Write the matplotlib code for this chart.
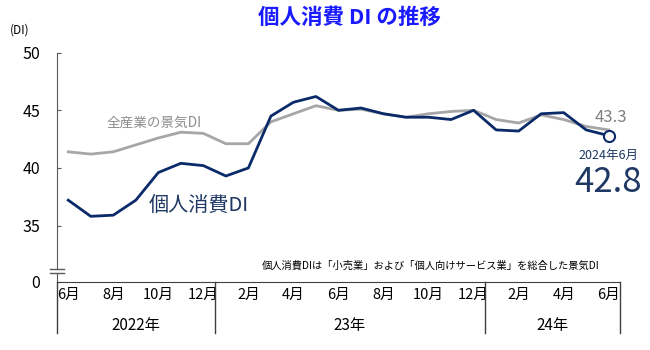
import matplotlib
matplotlib.use("Agg")
import matplotlib.pyplot as plt
import matplotlib.transforms as mtransforms

plt.rcParams['font.family'] = ['Noto Sans CJK JP', 'DejaVu Sans']

# 2022年6月 - 2024年6月 (月次)
kojin_di = [37.2, 35.8, 35.9, 37.2, 39.6, 40.4, 40.2, 39.3, 40.0, 44.5,
            45.7, 46.2, 45.0, 45.2, 44.7, 44.4, 44.4, 44.2, 45.0, 43.3,
            43.2, 44.7, 44.8, 43.3, 42.8]
zensangyo_di = [41.4, 41.2, 41.4, 42.0, 42.6, 43.1, 43.0, 42.1, 42.1, 44.0,
                44.7, 45.4, 45.0, 45.1, 44.7, 44.4, 44.7, 44.9, 45.0, 44.2,
                43.9, 44.6, 44.2, 43.6, 43.3]
month_labels = ["6月", "8月", "10月", "12月", "2月", "4月", "6月",
                "8月", "10月", "12月", "2月", "4月", "6月"]
year_labels = ["2022年", "23年", "24年"]
year_bounds = [-0.5, 6.5, 18.5, 24.5]

navy = "#0b2a6a"
text_navy = "#1f3864"
gray = "#a6a6a6"
y_base = 30.1  # 軸の「0」の位置(省略線の下)

fig = plt.figure(figsize=(6.5, 3.5), dpi=100)
ax = fig.add_axes([0.0877, 0.1943, 0.8661, 0.6551])

x = list(range(len(kojin_di)))
ax.plot(x, zensangyo_di, color=gray, lw=2, zorder=2)
ax.plot(x, kojin_di, color=navy, lw=2, zorder=3)
ax.plot(x[-1], kojin_di[-1], "o", ms=8, mfc="white", mec=navy, mew=1.5, zorder=4)

ax.set_xlim(-0.5, 24.5)
ax.set_ylim(y_base, 50)
ax.set_yticks([y_base, 35, 40, 45, 50])
ax.set_yticklabels(["0", "35", "40", "45", "50"], fontsize=11.5)
ax.tick_params(axis="y", direction="in", length=3, color="#595959", pad=12)
ax.set_xticks(range(0, 25, 2))
ax.set_xticklabels(month_labels, fontsize=10.5)
ax.tick_params(axis="x", length=0, pad=4)

for s in ["top", "right"]:
    ax.spines[s].set_visible(False)
ax.spines["left"].set_color("#595959")
ax.spines["bottom"].set_color("#404040")

# 年の区切り線と年ラベル
trans = mtransforms.blended_transform_factory(ax.transData, ax.transAxes)
for b in year_bounds:
    ax.plot([b, b], [0, -0.222], color="#404040", lw=1, transform=trans, clip_on=False)
for i, lab in enumerate(year_labels):
    mid = (year_bounds[i] + year_bounds[i + 1]) / 2
    ax.text(mid, -0.19, lab, transform=trans, ha="center", va="center", fontsize=11)

# 縦軸の省略線
ax.add_patch(plt.Rectangle((-0.02, 0.039), 0.04, 0.018, transform=ax.transAxes,
                           facecolor="white", edgecolor="none", clip_on=False, zorder=5))
for yy in [0.039, 0.057]:
    ax.plot([-0.013, 0.013], [yy, yy], color="#595959", lw=1,
            transform=ax.transAxes, clip_on=False, zorder=6)

# 注記
ax.text(3.8, 43.9, "全産業の景気DI", color="#8c8c8c", fontsize=9.8, ha="center", va="center")
ax.text(5.8, 36.75, "個人消費DI", color=text_navy, fontsize=14.5, ha="center", va="center")
ax.text(24.1, 44.4, "43.3", color="#7f7f7f", fontsize=12, ha="center", va="center")
ax.text(24.0, 41.1, "2024年6月", color=text_navy, fontsize=9, ha="center", va="center")
ax.text(23.95, 38.7, "42.8", color=text_navy, fontsize=25, ha="center", va="center")
ax.text(16.1, 31.5, "個人消費DIは「小売業」および「個人向けサービス業」を総合した景気DI",
        fontsize=7.4, ha="center", va="center")

fig.text(0.537, 0.949, "個人消費 DI の推移", color="#1a1aff", fontsize=15.5,
         fontweight="bold", ha="center", va="center")
fig.text(0.015, 0.914, "(DI)", fontsize=8.5, ha="left", va="center")

fig.savefig("out.png", dpi=100)
